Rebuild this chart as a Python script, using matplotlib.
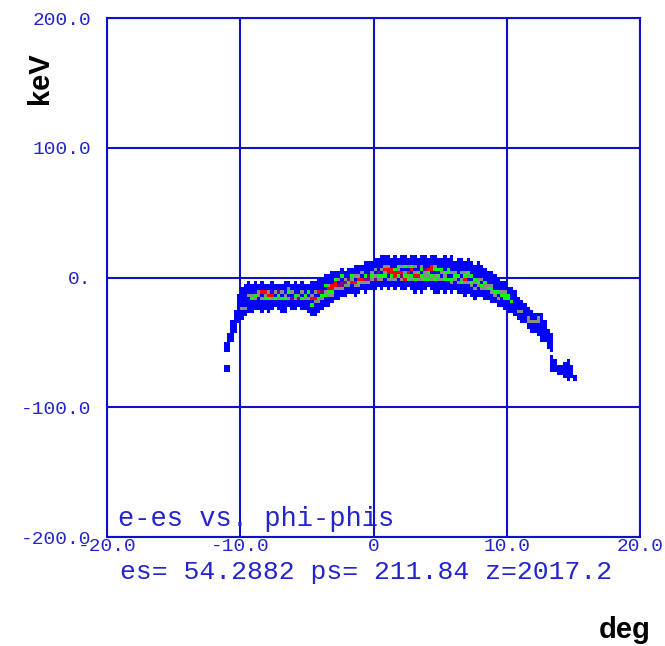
import numpy as np
import matplotlib
matplotlib.use("Agg")
import matplotlib.pyplot as plt
from matplotlib.colors import ListedColormap, BoundaryNorm

# binning of the 2D histogram (deg, keV)
X0, DX = -11.25, 0.25
Y0, DY = -82.5, 2.5
NX, NY = 106, 41

# one entry per x column: lowest filled keV bin edge and cell codes going up
# b=1 (blue) s=2 (gray) g=3 (green) p=4 (purple) r=5 (red) .=empty
col_lo = [
    -72.5, -72.5, -50, -42.5, -35, -32.5, -30, -27.5, -27.5, -25,
    -25, -27.5, -25, -27.5, -25, -22.5, -25, -27.5, -27.5, -22.5,
    -25, -25, -22.5, -25, -25, -27.5, -30, -30, -27.5, -25,
    -22.5, -22.5, -20, -17.5, -17.5, -15, -15, -12.5, -12.5, -15,
    -12.5, -10, -12.5, -10, -10, -10, -7.5, -10, -7.5, -10,
    -7.5, -10, -7.5, -10, -10, -7.5, -10, -12.5, -10, -12.5,
    -10, -7.5, -10, -12.5, -12.5, -10, -12.5, -10, -12.5, -10,
    -12.5, -12.5, -15, -12.5, -15, -17.5, -15, -15, -17.5, -17.5,
    -20, -20, -22.5, -22.5, -25, -27.5, -27.5, -30, -32.5, -35,
    -35, -40, -42.5, -42.5, -45, -50, -50, -55, -72.5, -72.5,
    -75, -75, -77.5, -80, -77.5, -80,
]
col_cells = [
    "bb....bbb", "bb....bbbbbb", "bbbbbbb", "bbbbbbb", "bbbbbbbbb",
    "bbbsbbbbbb", "bbsbbbbbbb", "bbbbbsbbbb", "bbbbgsbbb", "bbbsgbbbb",
    "bbbbssbb", "bbbbsbrbbb", "bbbgsrbb", "bbbbgrsbb", "bbbsrbbbb",
    "bbgbsbb", "bbbsgpbb", "bbbbgbsbb", "bbbbgsbbbb", "bbsbgsbb",
    "bbbpbsbb", "bbbsgbbbb", "bbpsbbb", "bbbgbsbbb", "bbbsgbbb",
    "bbbbsbgbb", "bbbgbrsbbbb", "bbbbsrbsbbb", "bbbsgbrbbbb", "bbbsgpbbbb",
    "bbbgsbgbbb", "bbbsgrsbbb", "bbsgrrbbbb", "bbbsrrgbb", "bbbspbsbb",
    "bbsppbgbb", "bbbspsbb", "bbsgpbbb", "bbbrsgbb", "bbbsrbsbbb",
    "bbsgrsbbb", "bbsrbsbb", "bbbspgbbbb", "bbsppbbbb", "bbbsgsbbb",
    "bbbpsbsbbb", "bbsgpbbbb", "bbbsgbsbbbb", "bbbgsrsbbb", "bbbsbrrsbbb",
    "bbsgrrbbb", "bbbsrrgbbbb", "bbbgrsgbb", "bbbsprbsbbb", "bbbrgsbgbbb",
    "bbgsrbsbb", "bbbsgbrgbbb", "bbbbgrsbsbbb", "bbbsrgbbbb", "bbbbsgbgsbbb",
    "bbbgsspbbbb", "bbgsgrbbb", "bbbsgbrrbbb", "bbbbgsbgsbbb", "bbbbsgbgbbb",
    "bbbsbsgbbb", "bbbbgsgbbbbb", "bbbgbggbbb", "bbbsgbsbbbbb", "bbbsgsbbb",
    "bbbsbgbbbbb", "bbbgsbsbbbb", "bbbbsrgsbbb", "bbbsbsgbbbb", "bbbsgbgbbbb",
    "bbbsbsgbbbb", "bbbsgsbbbbb", "bbsgbsbbbb", "bbbssgbbbb", "bbbgsbbbb",
    "bbbsgsbbbb", "bbsgbbbbb", "bbsbgbbbb", "bbbgsbbb", "bbbggsbbb",
    "bbbbggbb", "bbbgbbbb", "bbbbbbbb", "bbsbbbb", "bbbsbbb",
    "bbbbbb", "bbssbbb", "bbbsbbb", "bbbsbb", "bbbbssb",
    "bbbbbbbbb", "bbbbbbb", "bbbbbb", "bbbbb.bbbbbb", "bbbb",
    "bbb", "bbb", "bbbbb", "bbbbbbb", "bbbb", "bb",
]
code_value = {"b": 1, "s": 2, "g": 3, "p": 4, "r": 5}

xticks = [-20, -10, 0, 10, 20]
xlabels = ["-20.0", "-10.0", "0", "10.0", "20.0"]
yticks = [-200, -100, 0, 100, 200]
ylabels = ["-200.0", "-100.0", "0.", "100.0", "200.0"]

counts = np.full((NY, NX), np.nan)
for i, (lo, cells) in enumerate(zip(col_lo, col_cells)):
    j0 = int(round((lo - Y0) / DY))
    for k, c in enumerate(cells):
        if c in code_value:
            counts[j0 + k, i] = code_value[c]

xedges = X0 + DX * np.arange(NX + 1)
yedges = Y0 + DY * np.arange(NY + 1)

blue_line = "#1010C8"
blue_text = "#2424CC"

fig = plt.figure(figsize=(6.65, 6.46), dpi=100)
ax = fig.add_axes([107 / 665, 1 - 537 / 646, 533 / 665, 519 / 646])

cmap = ListedColormap(["#0000FF", "#8C8C8C", "#00FF00", "#800080", "#FF0000"])
norm = BoundaryNorm([0.5, 1.5, 2.5, 3.5, 4.5, 5.5], cmap.N)
ax.pcolormesh(xedges, yedges, np.ma.masked_invalid(counts), cmap=cmap, norm=norm,
              antialiased=False, linewidth=0, zorder=2)

ax.set_xlim(-20, 20)
ax.set_ylim(-200, 200)
ax.set_xticks(xticks)
ax.set_yticks(yticks)
ax.set_xticklabels(xlabels)
ax.set_yticklabels(ylabels)
ax.tick_params(length=0, colors=blue_text, labelsize=14)
ax.tick_params(axis="y", pad=11)
ax.tick_params(axis="x", pad=1)
for lab in ax.get_xticklabels() + ax.get_yticklabels():
    lab.set_fontfamily("Liberation Mono")
ax.grid(True, color=blue_line, linewidth=1.5, zorder=1)
ax.set_axisbelow(True)
for sp in ax.spines.values():
    sp.set_color(blue_line)
    sp.set_linewidth(1.5)
    sp.set_zorder(3)

ax.text(0.02, 0.021, "e-es vs. phi-phis", transform=ax.transAxes,
        fontfamily="Liberation Mono", fontsize=19.5, color=blue_text, va="baseline")
fig.text(120 / 665, 1 - 579 / 646, "es= 54.2882 ps= 211.84 z=2017.2",
         fontfamily="Liberation Mono", fontsize=19, color=blue_text, va="baseline")

fig.text(40 / 665, 1 - 78 / 646, "keV", rotation=90, ha="center", va="center",
         fontfamily="Liberation Sans", fontweight="bold", fontsize=21, color="black")
fig.text(625 / 665, 1 - 630 / 646, "deg", ha="center", va="center",
         fontfamily="Liberation Sans", fontweight="bold", fontsize=21, color="black")

fig.savefig("out.png", dpi=100)
